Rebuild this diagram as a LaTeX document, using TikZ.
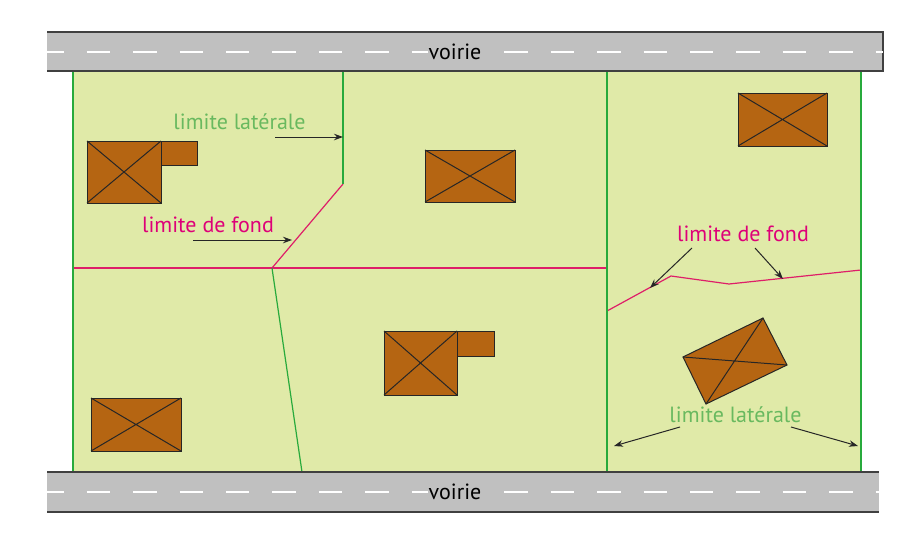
\documentclass[tikz,border=0pt]{standalone}
\usepackage{fontspec}
\setmainfont{PT Sans}
\usetikzlibrary{arrows.meta}
\definecolor{terrain}{RGB}{224,234,168}
\definecolor{route}{RGB}{192,192,192}
\definecolor{maison}{RGB}{181,101,18}
\definecolor{limlat}{RGB}{40,170,60}
\definecolor{txtlat}{RGB}{105,185,95}
\definecolor{limfond}{RGB}{222,30,105}
\definecolor{txtfond}{RGB}{222,0,120}
\tikzset{
  bord/.style={draw=black!75, line width=1.5pt},
  marquage/.style={draw=white, line width=1.6pt, dash pattern=on 23.5pt off 22.9pt, dash phase=6.7pt},
  bati/.style={draw=black!85, fill=maison, line width=1pt},
  croix/.style={draw=black!85, line width=1pt},
  lat/.style={draw=limlat, line width=1.2pt},
  fond/.style={draw=limfond, line width=1.2pt},
  fleche/.style={-{Stealth[length=9pt,width=6.5pt]}, draw=black!85, line width=1pt},
  etiq/.style={font=\fontsize{22}{22}\selectfont, inner sep=0pt}
}

\begin{document}
\begin{tikzpicture}[x=1pt, y=-1pt]
      \useasboundingbox (0,0) rectangle (906,541);
      \fill[terrain] (73,71) rectangle (861,472);
      \filldraw[bati] (87,141) rectangle (161,203);
      \draw[croix] (87,141) -- (161,203) (87,203) -- (161,141);
      \filldraw[bati] (161,141) rectangle (197,165);
      \filldraw[bati] (425,150) rectangle (515,202);
      \draw[croix] (425,150) -- (515,202) (425,202) -- (515,150);
      \filldraw[bati] (738,93) rectangle (827,146);
      \draw[croix] (738,93) -- (827,146) (738,146) -- (827,93);
      \filldraw[bati] (91,398) rectangle (181,451);
      \draw[croix] (91,398) -- (181,451) (91,451) -- (181,398);
      \filldraw[bati] (457,331) rectangle (494,356);
      \filldraw[bati] (384,331) rectangle (457,395);
      \draw[croix] (384,331) -- (457,395) (384,395) -- (457,331);
      \filldraw[bati] (763,318) -- (787,365) -- (706,404) -- (683,357) -- cycle;
      \draw[croix] (683,357) -- (787,365) (763,318) -- (706,404);
      \draw[fond] (73,268) -- (607,268);
      \draw[fond] (343,184) -- (272,268);
      \draw[fond] (607,311) -- (671,276) -- (729,284) -- (861,270);
      \draw[lat] (73,71) -- (73,472);
      \draw[lat] (861,71) -- (861,472);
      \draw[lat] (607,71) -- (607,472);
      \draw[lat] (343,71) -- (343,184);
      \draw[lat] (272,268) -- (302,472);
      \fill[route] (47,32) rectangle (883,71);
      \draw[bord] (47,32) -- (883,32) -- (883,71) -- (47,71);
      \draw[marquage] (47,52) -- (883,52);
      \fill[route] (47,472) rectangle (879,512);
      \draw[bord] (47,472) -- (879,472) (47,512) -- (879,512);
      \draw[marquage] (47,492) -- (879,492);
      \node[etiq, fill=route, inner xsep=1pt] (voirie1) at (455,52) {voirie};
      \node[etiq, fill=route, inner xsep=1pt] (voirie2) at (455,492) {voirie};
      \node[etiq, text=txtlat] (lat1) at (239.5,122) {limite latérale};
      \node[etiq, text=txtfond] (fond1) at (208,225) {limite de fond};
      \node[etiq, text=txtfond] (fond2) at (743,233.5) {limite de fond};
      \node[etiq, text=txtlat] (lat2) at (735.5,414.5) {limite latérale};
      \coordinate (a1) at (275,137);   \coordinate (b1) at (343,137);
      \coordinate (a2) at (193,240);   \coordinate (b2) at (292,240);
      \coordinate (a3) at (692,248);   \coordinate (b3) at (650,288);
      \coordinate (a4) at (755,248);   \coordinate (b4) at (783,279);
      \coordinate (a5) at (680,427);   \coordinate (b5) at (614,446);
      \coordinate (a6) at (791,427);   \coordinate (b6) at (858,446);
      \draw[fleche] (a1) -- (b1);
      \draw[fleche] (a2) -- (b2);
      \draw[fleche] (a3) -- (b3);
      \draw[fleche] (a4) -- (b4);
      \draw[fleche] (a5) -- (b5);
      \draw[fleche] (a6) -- (b6);
    \end{tikzpicture}
\end{document}
